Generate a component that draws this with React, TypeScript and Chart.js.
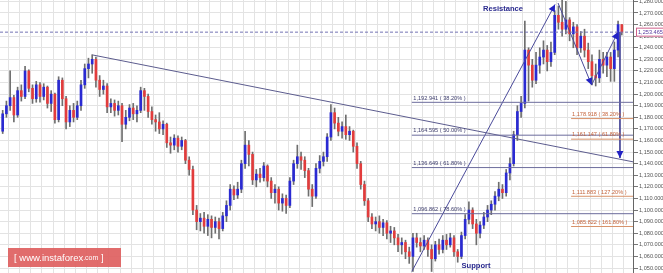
import React, { useEffect, useRef } from "react";
import { Chart, registerables } from "chart.js";

Chart.register(...registerables);

// ---------- data ----------
const firstOpen = 1168;
const closes = [
  1183, 1190, 1197, 1182, 1203, 1198, 1220, 1205, 1196, 1208,
  1198, 1206, 1192, 1200, 1178, 1212, 1196, 1176, 1186, 1180,
  1190, 1208, 1222, 1226, 1230, 1212, 1204, 1207, 1189, 1192,
  1186, 1190, 1174, 1180, 1188, 1183, 1186, 1203, 1198, 1185,
  1178, 1176, 1170, 1174, 1158, 1156, 1162, 1155, 1160, 1143,
  1135, 1100, 1090, 1093, 1086, 1092, 1085, 1090, 1084, 1095,
  1104, 1118, 1113, 1118, 1140, 1156, 1148, 1126, 1131, 1128,
  1138, 1125, 1115, 1118, 1106, 1110, 1104, 1125, 1140, 1146,
  1143, 1134, 1118, 1112, 1136, 1142, 1146, 1163, 1184, 1175,
  1168, 1172, 1165, 1168, 1155, 1140, 1122, 1108, 1094, 1088,
  1090, 1085, 1089, 1080, 1082, 1076, 1070, 1072, 1064, 1060,
  1076, 1072, 1069, 1074, 1066, 1058, 1070, 1066, 1074, 1070,
  1076, 1064, 1060, 1078, 1092, 1100, 1088, 1080, 1087, 1094,
  1100, 1105, 1112, 1118, 1115, 1132, 1140, 1165, 1185, 1192,
  1238, 1225, 1212, 1225, 1232, 1238, 1228, 1236, 1268, 1262,
  1256, 1264, 1252, 1258, 1240, 1250, 1238, 1228, 1216, 1214,
  1230, 1225, 1232, 1222, 1238, 1260, 1253.465,
];
const highs = [
  1186, 1194, 1220, 1199, 1206, 1208, 1224, 1221, 1208, 1211,
  1210, 1209, 1207, 1203, 1201, 1215, 1214, 1198, 1190, 1192,
  1194, 1212, 1226, 1231, 1234, 1232, 1216, 1212, 1209, 1196,
  1195, 1194, 1192, 1186, 1191, 1192, 1190, 1206, 1205, 1200,
  1189, 1182, 1184, 1177, 1175, 1163, 1165, 1164, 1163, 1161,
  1146, 1138, 1104, 1097, 1098, 1096, 1095, 1094, 1093, 1098,
  1108, 1122, 1121, 1124, 1143, 1168, 1160, 1150, 1135, 1136,
  1141, 1139, 1128, 1122, 1120, 1114, 1113, 1128, 1143, 1156,
  1150, 1146, 1136, 1122, 1140, 1147, 1150, 1166, 1191, 1188,
  1180, 1176, 1182, 1172, 1169, 1158, 1142, 1125, 1110, 1097,
  1094, 1095, 1092, 1091, 1086, 1085, 1079, 1076, 1074, 1068,
  1080, 1080, 1076, 1078, 1076, 1070, 1073, 1075, 1078, 1079,
  1080, 1078, 1066, 1081, 1096, 1107, 1102, 1092, 1090, 1098,
  1104, 1108, 1116, 1124, 1122, 1135, 1145, 1168, 1190, 1198,
  1263, 1240, 1230, 1236, 1240, 1246, 1242, 1245, 1272, 1276,
  1281, 1280, 1266, 1262, 1260, 1254, 1256, 1244, 1234, 1226,
  1238, 1236, 1236, 1236, 1245, 1263, 1260,
];
const lows = [
  1166, 1180, 1186, 1176, 1180, 1194, 1196, 1202, 1192, 1193,
  1193, 1195, 1188, 1185, 1175, 1176, 1190, 1170, 1172, 1176,
  1178, 1186, 1205, 1214, 1218, 1206, 1198, 1200, 1184, 1184,
  1181, 1182, 1159, 1170, 1177, 1178, 1176, 1184, 1186, 1180,
  1174, 1168, 1166, 1165, 1154, 1149, 1152, 1150, 1152, 1140,
  1130, 1096, 1083, 1082, 1080, 1078, 1076, 1080, 1075, 1082,
  1090, 1100, 1109, 1110, 1115, 1136, 1138, 1122, 1120, 1124,
  1125, 1120, 1110, 1106, 1100, 1099, 1097, 1102, 1122, 1136,
  1135, 1128, 1112, 1103, 1110, 1132, 1138, 1142, 1160, 1170,
  1164, 1162, 1161, 1160, 1150, 1136, 1118, 1104, 1090, 1084,
  1082, 1080, 1078, 1075, 1072, 1070, 1064, 1062, 1058, 1054,
  1047, 1068, 1064, 1066, 1060, 1047, 1056, 1062, 1063, 1066,
  1068, 1060, 1055, 1058, 1075, 1088, 1084, 1070, 1076, 1084,
  1090, 1096, 1100, 1108, 1110, 1112, 1126, 1138, 1160, 1180,
  1188, 1194, 1206, 1209, 1218, 1226, 1220, 1224, 1234, 1256,
  1250, 1252, 1246, 1240, 1234, 1236, 1232, 1222, 1208, 1207,
  1210, 1218, 1215, 1211, 1211, 1232, 1251,
];

const currentPrice = 1253.465;

const fibBlueLevels = [1192.941, 1164.595, 1136.649, 1096.862];
const fibBluePcts = ["38.20%", "50.00%", "61.80%", "78.60%"];
const fibBlueStartX = 109.7;

const fibOrangeLevels = [1178.918, 1161.147, 1111.883, 1085.822];
const fibOrangePcts = ["38.20%", "61.80%", "127.20%", "161.80%"];
const fibOrangeStartX = 152.4;

const trendLineX = [24.1, 169.0];
const trendLineY = [1233.8, 1141.6];
const supResX = [109.7, 148.1];
const supResY = [1047.0, 1277.4];
const zigzagX = [148.9, 157.9, 164.97];
const zigzagY = [1278.6, 1207.9, 1253.6];
const dropX = [165.5, 165.5];
const dropY = [1253.6, 1144.9];

const xMin = -0.72;
const xMax = 169.0;
const yMin = 1045.7;
const yMax = 1281.2;

// ---------- helpers ----------
const FONT = "'Liberation Sans', Arial, sans-serif";
const fmt = (v: number) =>
  v.toLocaleString("en-US", { minimumFractionDigits: 3, maximumFractionDigits: 3 });

const opens = closes.map((c, i) => (i === 0 ? firstOpen : closes[i - 1]));

const pts = (xs: number[], ys: number[]) => xs.map((x, i) => ({ x, y: ys[i] }));

const lineDs = (data: any[], color: string, extra: any = {}) => ({
  type: "line" as const,
  data,
  borderColor: color,
  borderWidth: 1,
  pointRadius: 0,
  fill: false,
  order: 0,
  ...extra,
});

const overlayPlugin = {
  id: "overlay",
  afterDatasetsDraw(chart: any) {
    const { ctx } = chart;
    const xs = chart.scales.x;
    const ys = chart.scales.y;
    const px = (v: number) => xs.getPixelForValue(v);
    const py = (v: number) => ys.getPixelForValue(v);

    const arrow = (x0: number, y0: number, x1: number, y1: number) => {
      const ax = px(x1), ay = py(y1);
      const ang = Math.atan2(ay - py(y0), ax - px(x0));
      const L = 7, W = 3.5;
      ctx.save();
      ctx.fillStyle = "#2222c4";
      ctx.beginPath();
      ctx.moveTo(ax, ay);
      ctx.lineTo(ax - L * Math.cos(ang) + W * Math.sin(ang), ay - L * Math.sin(ang) - W * Math.cos(ang));
      ctx.lineTo(ax - L * Math.cos(ang) - W * Math.sin(ang), ay - L * Math.sin(ang) + W * Math.cos(ang));
      ctx.closePath();
      ctx.fill();
      ctx.restore();
    };
    arrow(supResX[0], supResY[0], supResX[1], supResY[1]);
    arrow(zigzagX[0], zigzagY[0], zigzagX[1], zigzagY[1]);
    arrow(zigzagX[1], zigzagY[1], zigzagX[2], zigzagY[2]);
    arrow(dropX[0], dropY[0], dropX[1], dropY[1]);

    ctx.save();
    ctx.font = `5.6px ${FONT}`;
    ctx.textBaseline = "bottom";
    ctx.textAlign = "left";
    ctx.fillStyle = "#3c3c6c";
    fibBlueLevels.forEach((lv, i) => {
      ctx.fillText(`${fmt(lv)} ( ${fibBluePcts[i]} )`, px(fibBlueStartX) + 1.5, py(lv) - 1.5);
    });
    ctx.fillStyle = "#c4643c";
    fibOrangeLevels.forEach((lv, i) => {
      ctx.fillText(`${fmt(lv)} ( ${fibOrangePcts[i]} )`, px(fibOrangeStartX) + 1, py(lv) - 1.5);
    });

    ctx.fillStyle = "#2a2a8e";
    ctx.textAlign = "center";
    ctx.textBaseline = "middle";
    ctx.font = `bold 7.6px ${FONT}`;
    ctx.fillText("Resistance", 503, 8.5);
    ctx.font = `bold 7.6px ${FONT}`;
    ctx.fillText("Support", 476, 265.5);
    ctx.restore();
  },
  afterDraw(chart: any) {
    const { ctx } = chart;
    const ys = chart.scales.y;
    const area = chart.chartArea;
    const cy = ys.getPixelForValue(currentPrice);
    ctx.save();
    // price box
    ctx.fillStyle = "#ffffff";
    ctx.fillRect(area.right + 3, cy - 4.5, 28, 9);
    ctx.strokeStyle = "#d0608a";
    ctx.lineWidth = 1;
    ctx.strokeRect(area.right + 3.5, cy - 4, 28, 8);
    ctx.fillStyle = "#5a3aa0";
    ctx.font = `5.6px ${FONT}`;
    ctx.textBaseline = "middle";
    ctx.textAlign = "left";
    ctx.fillText(fmt(currentPrice), area.right + 5, cy + 0.5);

    // watermark
    ctx.fillStyle = "rgba(222, 96, 96, 0.92)";
    ctx.fillRect(8, 248, 113, 19);
    ctx.fillStyle = "#ffffff";
    ctx.textBaseline = "middle";
    let x = 14;
    const yText = 258;
    const parts: [string, number][] = [["[ ", 9.5], ["www.instaforex", 9.5], [".com", 7], [" ]", 9.5]];
    parts.forEach(([t, s]) => {
      ctx.font = `${s}px ${FONT}`;
      ctx.fillText(t, x, yText);
      x += ctx.measureText(t).width;
    });
    ctx.restore();
  },
};

export default function App() {
  const canvasRef = useRef<HTMLCanvasElement | null>(null);

  useEffect(() => {
    if (!canvasRef.current) return;
    const upColor = "#2a2ad2";
    const downColor = "#e23c3c";

    const wickData = closes.map((c, i) => ({ x: i, y: [lows[i], highs[i]] }));
    const bodyData = closes.map((c, i) => ({ x: i, y: [opens[i], c] }));
    const bodyColors = closes.map((c, i) => (c >= opens[i] ? upColor : downColor));

    const datasets: any[] = [
      {
        type: "bar",
        data: wickData,
        backgroundColor: "#6e6e6e",
        barThickness: 1,
        grouped: false,
        order: 2,
      },
      {
        type: "bar",
        data: bodyData,
        backgroundColor: bodyColors,
        barThickness: 2,
        minBarLength: 1,
        grouped: false,
        order: 1,
      },
      lineDs(pts([xMin, xMax], [currentPrice, currentPrice]), "#7474b4", { borderDash: [3, 2] }),
      ...fibBlueLevels.map((lv) => lineDs(pts([fibBlueStartX, xMax], [lv, lv]), "#6c6c9c")),
      ...fibOrangeLevels.map((lv) => lineDs(pts([fibOrangeStartX, xMax], [lv, lv]), "#d8926a")),
      lineDs(pts(trendLineX, trendLineY), "#5c5c8e"),
      lineDs(pts(supResX, supResY), "#4a4a9a"),
      lineDs(pts(zigzagX, zigzagY), "#4a4a9a"),
      lineDs(pts(dropX, dropY), "#4a4a9a"),
    ];

    const chart = new Chart(canvasRef.current, {
      type: "bar",
      data: { datasets },
      plugins: [overlayPlugin],
      options: {
        animation: false,
        responsive: false,
        devicePixelRatio: 1,
        events: [],
        layout: { padding: 0 },
        plugins: { legend: { display: false }, tooltip: { enabled: false } },
        scales: {
          x: {
            type: "linear",
            min: xMin,
            max: xMax,
            offset: false,
            ticks: { display: false, stepSize: 3, includeBounds: false },
            grid: { color: "#e3e3e3", drawTicks: false },
            border: { display: false },
            afterFit: (s: any) => {
              s.height = 0;
              s.paddingLeft = 0;
              s.paddingRight = 0;
            },
          },
          y: {
            type: "linear",
            position: "right",
            min: yMin,
            max: yMax,
            ticks: {
              stepSize: 10,
              includeBounds: false,
              padding: 1,
              color: "#555555",
              font: { size: 5.6, family: FONT },
              callback: (v: any) => fmt(Number(v)),
            },
            grid: { color: "#e3e3e3", tickColor: "#777777", tickLength: 5 },
            border: { display: true, color: "#666666" },
            afterFit: (s: any) => {
              s.width = 30;
              s.paddingTop = 0;
              s.paddingBottom = 0;
            },
          },
        },
      } as any,
    });
    return () => chart.destroy();
  }, []);

  return (
    <div style={{ position: "fixed", left: 0, top: 0, width: 663, height: 273, background: "#fff" }}>
      <canvas ref={canvasRef} width={663} height={273} style={{ display: "block" }} />
    </div>
  );
}
